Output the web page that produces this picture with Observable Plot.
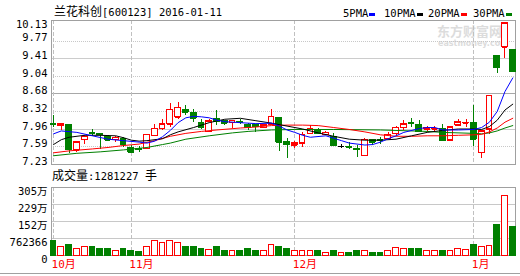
<!DOCTYPE html>
<html><head><meta charset="utf-8">
<script src="https://cdn.jsdelivr.net/npm/d3@7"></script>
<script src="https://cdn.jsdelivr.net/npm/@observablehq/plot@0.6"></script>
<style>
html,body{margin:0;padding:0;background:#fff;}
#wrap{position:relative;width:520px;height:276px;overflow:hidden;background:#fff;}
.abs{position:absolute;white-space:nowrap;line-height:14px;}
.mono{font-family:"DejaVu Sans Mono","Noto Sans CJK SC",monospace;font-size:10.5px;color:#000;}
.cjk{font-family:"Noto Sans CJK SC",sans-serif;font-size:12px;}
svg{position:absolute;left:0;}
</style></head><body><div id="wrap"></div>
<script>
// ---- data ----
const stockName = "兰花科创";
const stockCode = "600123";
const dates = [
 "2015-10-19","2015-10-20","2015-10-21","2015-10-22","2015-10-23","2015-10-26","2015-10-27","2015-10-28","2015-10-29","2015-10-30",
 "2015-11-02","2015-11-03","2015-11-04","2015-11-05","2015-11-06","2015-11-09","2015-11-10","2015-11-11","2015-11-12","2015-11-13",
 "2015-11-16","2015-11-17","2015-11-18","2015-11-19","2015-11-20","2015-11-23","2015-11-24","2015-11-25","2015-11-26","2015-11-27",
 "2015-11-30","2015-12-01","2015-12-02","2015-12-03","2015-12-04","2015-12-07","2015-12-08","2015-12-09","2015-12-10","2015-12-11",
 "2015-12-14","2015-12-15","2015-12-16","2015-12-17","2015-12-18","2015-12-21","2015-12-22","2015-12-23","2015-12-24","2015-12-25",
 "2015-12-28","2015-12-29","2015-12-30","2015-12-31","2016-01-04","2016-01-05","2016-01-06","2016-01-07","2016-01-08","2016-01-11"];
const open  = [8.07,8.03,8.04,7.52,7.74,7.88,7.86,7.79,7.74,7.76, 7.56,7.54,7.55,7.82,7.96,8.06,8.20,8.36,8.29,8.08,
               7.90,8.17,8.13,8.09,8.11,8.04,8.04,7.99,8.06,8.18, 7.70,7.63,7.67,7.86,7.94,7.84,7.80,7.60,7.59,7.54,
               7.41,7.74,7.74,7.76,7.86,7.99,8.09,8.04,7.95,7.95, 7.96,7.73,8.04,8.08,8.08,7.47,7.95,9.47,9.64,9.58];
const high  = [8.23,8.06,8.05,7.70,7.82,7.94,7.87,7.83,7.81,7.79, 7.62,7.59,7.85,8.06,8.15,8.49,8.50,8.44,8.36,8.15,
               8.15,8.33,8.14,8.14,8.15,8.08,8.05,8.06,8.36,8.18, 7.77,7.70,7.89,8.03,7.98,7.90,7.86,7.65,7.69,7.62,
               7.76,7.74,7.79,7.88,8.01,8.14,8.18,8.13,8.01,8.01, 8.06,8.01,8.16,8.16,8.44,7.92,8.64,9.47,10.13,9.58];
const low   = [7.99,7.93,7.46,7.47,7.65,7.81,7.53,7.70,7.69,7.58, 7.48,7.47,7.53,7.81,7.93,7.99,8.15,8.23,8.10,7.94,
               7.90,8.03,8.03,7.98,8.06,7.93,7.89,7.99,8.04,7.50, 7.35,7.55,7.58,7.85,7.85,7.84,7.62,7.55,7.54,7.38,
               7.40,7.63,7.65,7.74,7.82,7.93,7.99,7.90,7.89,7.90, 7.71,7.70,8.01,8.00,7.60,7.36,7.85,9.10,9.41,9.12];
const close = [8.05,8.06,7.53,7.69,7.80,7.87,7.84,7.73,7.78,7.64, 7.48,7.53,7.84,7.96,8.06,8.36,8.40,8.30,8.18,7.99,
               8.12,8.11,8.08,8.13,8.10,7.99,8.01,8.04,8.21,7.69, 7.64,7.67,7.84,7.96,7.86,7.88,7.62,7.60,7.58,7.53,
               7.74,7.69,7.73,7.84,7.99,8.06,8.08,7.90,7.98,7.97, 7.72,8.00,8.10,8.09,7.75,7.91,8.64,9.22,10.13,9.14];
const volume = [670000,400000,490000,300000,400000,360000,310000,270000,220000,270000,
                220000,150000,370000,670000,550000,630000,580000,360000,360000,310000,
                250000,400000,220000,220000,220000,270000,220000,220000,480000,360000,
                270000,180000,220000,220000,220000,130000,180000,130000,130000,180000,
                220000,130000,130000,220000,330000,300000,270000,270000,220000,180000,
                220000,220000,280000,250000,490000,390000,420000,1370000,2650000,1281227];
// moving averages (candle index, price)
const ma5Idx = [0,1,3,5,7,9,11,12,13,14,15,16,17,18,19,20,21,22,24,26,28,29,30,31,32,33,35,37,38,40,41,42,43,44,45,47,48,49,50,52,54,55,56,57,58,59];
const ma5    = [7.86,7.92,7.89,7.82,7.75,7.72,7.69,7.67,7.71,7.80,7.93,8.09,8.19,8.22,8.21,8.19,8.14,8.11,8.09,8.07,8.08,8.02,7.94,7.89,7.83,7.79,7.82,7.72,7.67,7.63,7.64,7.69,7.76,7.82,7.89,7.97,7.99,7.99,7.94,7.94,7.95,7.99,8.10,8.32,8.73,9.01];
const ma10Idx = [0,1,2,4,6,8,9,10,11,12,14,15,16,18,20,22,24,26,28,30,32,34,36,38,40,42,44,46,48,50,52,54,55,56,57,58,59];
const ma10    = [7.64,7.74,7.79,7.83,7.83,7.82,7.78,7.73,7.71,7.72,7.76,7.84,7.90,7.99,8.09,8.16,8.18,8.13,8.08,8.02,7.96,7.88,7.81,7.75,7.73,7.73,7.75,7.82,7.89,7.93,7.96,7.96,7.95,8.01,8.14,8.35,8.47];
const ma20Idx = [0,2,5,7,9,11,13,15,17,19,21,24,26,28,30,32,34,36,38,40,42,44,46,48,50,52,54,55,56,57,58,59];
const ma20    = [7.47,7.51,7.55,7.58,7.62,7.65,7.72,7.81,7.87,7.91,7.94,7.98,8.00,8.03,8.04,8.04,8.03,7.99,7.95,7.90,7.84,7.81,7.81,7.82,7.82,7.83,7.84,7.85,7.90,7.98,8.10,8.18];
const ma30Idx = [0,3,6,9,12,14,15,17,20,23,25,28,31,36,42,48,50,54,55,56,57,58,59];
const ma30    = [7.41,7.46,7.49,7.53,7.58,7.64,7.67,7.75,7.82,7.88,7.91,7.94,7.95,7.95,7.94,7.91,7.89,7.87,7.86,7.88,7.92,7.98,8.03];
const maNames = ["5PMA","10PMA","20PMA","30PMA"];
const priceTicks  = [10.13,9.7675,9.405,9.0425,8.68,8.3175,7.955,7.5925,7.23];
const priceLabels = ["10.13","9.77","9.41","9.04","8.68","8.32","7.96","7.59","7.23"];
const volTicks  = [3049464,2287098,1524732,762366,0];
const volLabels = ["305万","229万","152万","762366","0"];

// ---- build ----
const RED = "#ff0000", GREEN = "#008000", BLUE = "#0000ff", BLACK = "#000000";
const maColors = [BLUE, BLACK, RED, GREEN];
const FONT = "DejaVu Sans Mono, Noto Sans CJK SC, monospace";
const rows = dates.map((d, i) => ({i, d, o: open[i], h: high[i], l: low[i], c: close[i], v: volume[i]}));
const cColor = r => r.c > r.o ? RED : r.c < r.o ? GREEN : BLACK;
const months = rows.filter((r, i) => i === 0 || r.d.slice(5, 7) !== rows[i - 1].d.slice(5, 7))
                   .map(r => ({i: r.i, label: (+r.d.slice(5, 7)) + "月"}));
const maSeries = [[ma5Idx, ma5], [ma10Idx, ma10], [ma20Idx, ma20], [ma30Idx, ma30]]
  .map(([ix, vals], k) => ix.map((x, j) => ({x, y: vals[j], k})));
const HW = 0.37;
const xDomain = [-0.26, 59.35];
const crisp = {shapeRendering: "crispEdges"};

const price = Plot.plot({
  width: 520, height: 168, marginLeft: 51, marginRight: 5, marginTop: 20, marginBottom: 4,
  x: {domain: xDomain, axis: null},
  y: {domain: [7.23, 10.19], axis: null},
  marks: [
    Plot.ruleY(priceTicks.filter((t, k) => k > 0 && k < 8 && k % 2 === 1), {stroke: "#c8c8c8", strokeDasharray: "1,1", ...crisp}),
    Plot.ruleY(priceTicks.filter((t, k) => k > 0 && k < 8 && k % 2 === 0 && k !== 4), {stroke: "#cccccc", ...crisp}),
    Plot.ruleY([priceTicks[4]], {stroke: "#a8a8a8", ...crisp}),
    Plot.ruleX(months, {x: "i", stroke: "#c0c0c0", strokeDasharray: "4,2", ...crisp}),
    Plot.frame({stroke: "#a0a0a0", ...crisp}),
    Plot.ruleX(rows, {x: "i", y1: "l", y2: "h", stroke: cColor, ...crisp}),
    Plot.rect(rows, {x1: r => r.i - HW, x2: r => r.i + HW, y1: "o", y2: "c",
      fill: r => r.c > r.o ? "#ffffff" : cColor(r), stroke: cColor, ...crisp}),
    Plot.ruleY(rows, {y: "o", x1: r => r.i - HW, x2: r => r.i + HW, stroke: cColor, ...crisp}),
    Plot.ruleY(rows, {y: "c", x1: r => r.i - HW, x2: r => r.i + HW, stroke: cColor, ...crisp}),
    ...[3, 2, 1, 0].map(k => Plot.line(maSeries[k], {x: "x", y: "y", stroke: maColors[k], strokeWidth: 1, clip: true})),
    Plot.text([priceTicks[0]], {y: d => d, text: [priceLabels[0]], frameAnchor: "left", dx: -4, dy: 1,
      textAnchor: "end", fontFamily: FONT, fontSize: 10.5, fill: "#000"}),
    Plot.text(priceTicks.slice(1), {y: d => d, text: priceLabels.slice(1), frameAnchor: "left", dx: -4, dy: -3,
      textAnchor: "end", fontFamily: FONT, fontSize: 10.5, fill: "#000"})
  ]
});
price.style.top = "0px";

const vol = Plot.plot({
  width: 520, height: 108, marginLeft: 51, marginRight: 5, marginTop: 19, marginBottom: 21,
  x: {domain: xDomain, axis: null},
  y: {domain: [0, volTicks[0]], axis: null},
  marks: [
    Plot.ruleY(volTicks.slice(1, 4), {stroke: "#c8c8c8", ...crisp}),
    Plot.ruleX(months, {x: "i", stroke: "#c0c0c0", strokeDasharray: "4,2", ...crisp}),
    Plot.frame({stroke: "#a0a0a0", ...crisp}),
    Plot.rect(rows, {x1: r => r.i - HW, x2: r => r.i + HW, y1: 0, y2: "v",
      fill: r => r.c >= r.o ? "#ffffff" : GREEN, stroke: r => r.c >= r.o ? RED : GREEN, ...crisp}),
    Plot.text(volTicks, {y: d => d, text: volLabels, frameAnchor: "left", dx: -4, dy: 4,
      textAnchor: "end", fontFamily: FONT, fontSize: 10.5, fill: "#000"}),
    Plot.text(months, {x: "i", text: "label", frameAnchor: "bottom", dy: 12, dx: -2,
      textAnchor: "start", fontFamily: FONT, fontSize: 11, fill: RED})
  ]
});
vol.style.top = "168px";

const wrap = document.getElementById("wrap");
// watermark (behind)
const wm1 = document.createElement("div");
wm1.className = "abs"; wm1.style.cssText = "left:437px;top:24px;font:bold 13px 'Noto Sans CJK SC',sans-serif;color:#dcdcdc;line-height:13px;";
wm1.textContent = "东方财富网";
const wm2 = document.createElement("div");
wm2.className = "abs"; wm2.style.cssText = "left:438px;top:40px;font:bold 8px 'DejaVu Sans',sans-serif;color:#dcdcdc;line-height:8px;";
wm2.textContent = "eastmoney.com";
wrap.appendChild(wm1); wrap.appendChild(wm2);
wrap.appendChild(price);
wrap.appendChild(vol);

// title
const last = rows[rows.length - 1];
const title = document.createElement("div");
title.className = "abs mono"; title.style.left = "54px"; title.style.top = "4px";
title.innerHTML = `<span class="cjk">${stockName}</span>[${stockCode}] ${last.d}`;
wrap.appendChild(title);
// legend
const legX = [343, 384, 428, 473];
maNames.forEach((n, k) => {
  const t = document.createElement("div");
  t.className = "abs mono"; t.style.left = legX[k] + "px"; t.style.top = "6px";
  t.innerHTML = `${n}<span style="display:inline-block;width:6px;height:3px;background:${maColors[k]};margin-left:1px;vertical-align:1px"></span>`;
  wrap.appendChild(t);
});
// volume caption
const vc = document.createElement("div");
vc.className = "abs mono"; vc.style.left = "52px"; vc.style.top = "168px";
vc.innerHTML = `<span class="cjk">成交量</span>:${last.v} <span class="cjk">手</span>`;
wrap.appendChild(vc);
// bottom rule
const br = document.createElement("div");
br.style.cssText = "position:absolute;left:0;top:273px;width:520px;height:1px;background:#a0a0a0;";
wrap.appendChild(br);
</script></body></html>
